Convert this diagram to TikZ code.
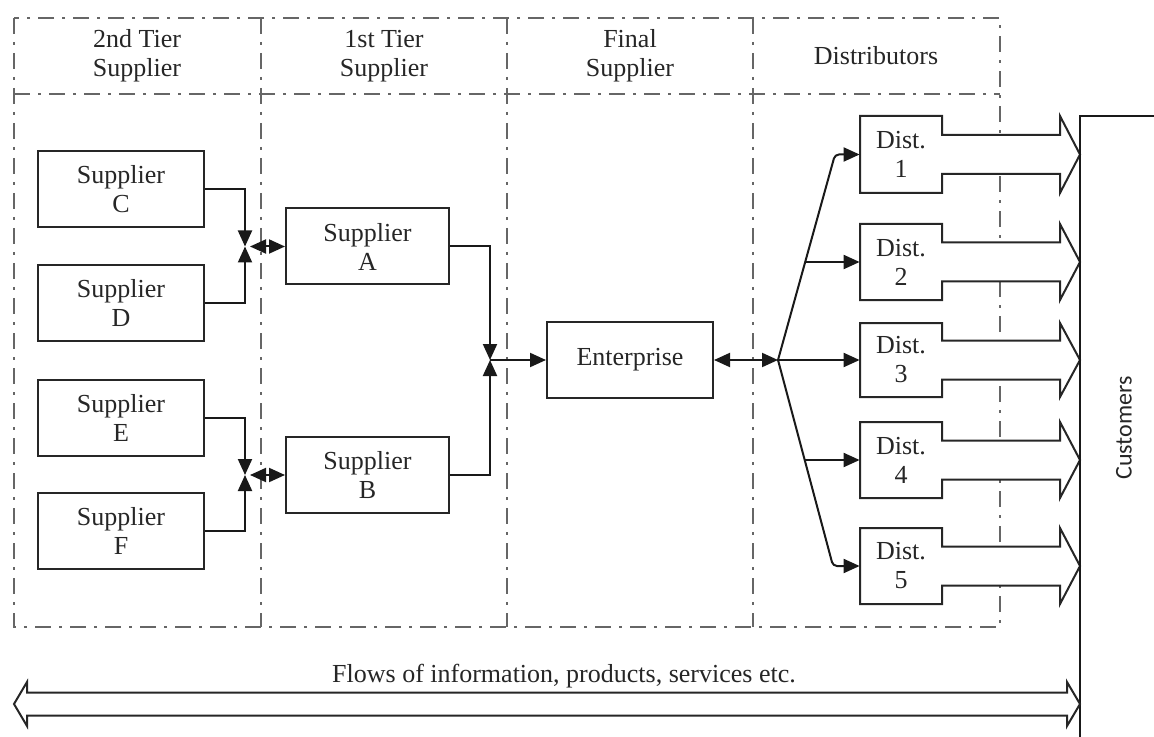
\documentclass[tikz,border=0pt]{standalone}
\usepackage{fontspec}
\setmainfont{Liberation Serif}
\newfontfamily\custfont{Carlito}
\usetikzlibrary{arrows.meta,calc}
\begin{document}
\begin{tikzpicture}[x=0.5pt,y=-0.5pt,
  txt/.style={font=\fontsize{13}{14.5}\selectfont,text=black!85,align=center},
  box/.style={txt,draw=black!85,line width=1pt,minimum width=83pt,minimum height=38pt,inner sep=0pt},
  dtext/.style={txt,minimum width=41pt,minimum height=38pt,inner sep=0pt},
  frame/.style={draw=black!60,line width=1.1pt,dash pattern=on 8pt off 4pt on 1.5pt off 4pt},
  conn/.style={draw=black!90,line width=1pt},
  tip/.style={-{Triangle[length=8pt,width=7pt]}},
  dtip/.style={{Triangle[length=8pt,width=7pt]}-{Triangle[length=8pt,width=7pt]}},
  outl/.style={draw=black!85,line width=1pt,fill=white,line join=miter}]
\useasboundingbox (0,0) rectangle (1154,737);
% frame
\draw[frame] (14,18) rectangle (1000,627);
\draw[frame] (14,94) -- (1000,94);
\foreach \x in {261,507,753} \draw[frame] (\x,18) -- (\x,627);
% headers
\node[txt] (h1) at (137,56) {2nd Tier\\Supplier};
\node[txt] (h2) at (384,56) {1st Tier\\Supplier};
\node[txt] (h3) at (630,56) {Final\\Supplier};
\node[txt] (h4) at (876,56) {Distributors};
% suppliers
\node[box] (C) at (121,189) {Supplier\\C};
\node[box] (D) at (121,303) {Supplier\\D};
\node[box] (E) at (121,418) {Supplier\\E};
\node[box] (F) at (121,531) {Supplier\\F};
\node[box,minimum width=81.5pt] (A) at (367.5,246.5) {Supplier\\A};
\node[box,minimum width=81.5pt] (B) at (367.5,475) {Supplier\\B};
\node[box] (Ent) at (630,360) {Enterprise};
% distributors
\foreach \i/\t/\b in {1/116/193,2/224/300,3/323/397,4/422/498,5/528/604}{
  \pgfmathsetmacro\c{(\t+\b)/2}
  \draw[outl] (860,\t) -- (942,\t) -- (942,\c-19.5) -- (1060,\c-19.5) -- (1060,\t)
    -- (1080,\c) -- (1060,\b) -- (1060,\c+19.5) -- (942,\c+19.5) -- (942,\b) -- (860,\b) -- cycle;
  \node[dtext] (d\i) at (901,\c) {Dist.\\\i};
}
% customers
\draw[conn] (1154,116) -- (1080,116) -- (1080,737);
\node[font=\custfont\fontsize{12}{14}\selectfont,text=black!85,rotate=90] (cust) at (1124,428) {Customers};
% flows arrow
\draw[outl] (14,704) -- (27,682) -- (27,692.5) -- (1067,692.5) -- (1067,682) -- (1080,704)
  -- (1067,726) -- (1067,715.5) -- (27,715.5) -- (27,726) -- cycle;
\node[txt] (flow) at (564,676) {Flows of information, products, services etc.};
% connectors
\coordinate (j1) at (245,246.5);
\coordinate (j2) at (245,475);
\coordinate (j3) at (490,360);
\coordinate (jd) at (778,360);
\draw[conn,tip] (C.east) -| (j1);
\draw[conn,tip] (D.east) -| (j1);
\draw[conn,dtip,shorten <=2.5pt] (j1) -- (A.west);
\draw[conn,tip] (E.east) -| (j2);
\draw[conn,tip] (F.east) -| (j2);
\draw[conn,dtip,shorten <=2.5pt] (j2) -- (B.west);
\draw[conn,tip] (A.east) -| (j3);
\draw[conn,tip] (B.east) -| (j3);
\draw[conn,tip] (j3) -- (Ent.west);
\draw[conn,dtip] (Ent.east) -- (jd);
\coordinate (k1) at (835,154.5);
\coordinate (b2) at (805,262);
\coordinate (b4) at (805,460);
\coordinate (k5) at (833,566);
\draw[conn,tip,rounded corners=2pt] (jd) -- (k1) -- (d1.west);
\draw[conn,tip] (b2) -- (d2.west);
\draw[conn,tip] (jd) -- (d3.west);
\draw[conn,tip] (b4) -- (d4.west);
\draw[conn,tip,rounded corners=2pt] (jd) -- (k5) -- (d5.west);
\end{tikzpicture}
\end{document}
